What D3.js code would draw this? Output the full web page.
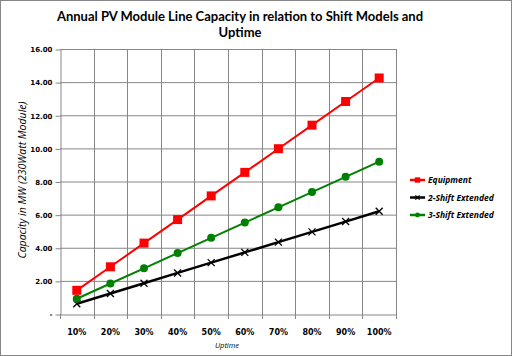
<!DOCTYPE html>
<html><head><meta charset="utf-8">
<script src="https://cdn.jsdelivr.net/npm/d3@7"></script>
<style>body{margin:0;background:#fff}svg{display:block}</style>
</head><body>
<svg id="c" width="512" height="356"></svg>
<script>
const categories = ["10%","20%","30%","40%","50%","60%","70%","80%","90%","100%"];
const equipment = [1.43,2.85,4.28,5.70,7.13,8.55,9.98,11.40,12.83,14.25];
const shift2 = [0.62,1.24,1.86,2.48,3.10,3.72,4.34,4.96,5.58,6.20];
const shift3 = [0.92,1.84,2.76,3.68,4.60,5.52,6.44,7.36,8.28,9.20];
const yTicks = [0,2,4,6,8,10,12,14,16];
const seriesNames = ["Equipment","2-Shift Extended","3-Shift Extended"];
const titleLines = ["Annual PV Module Line Capacity in relation to Shift Models and","Uptime"];

const svg = d3.select("#c");
svg.append("rect").attr("x",0.5).attr("y",0.5).attr("width",511).attr("height",355)
  .attr("fill","#fff").attr("stroke","#868686");

const L=60,R=396,T=49,B=314;
const x = d3.scaleBand().domain(categories).range([L,R]).padding(0);
const y = d3.scaleLinear().domain([0,16]).range([B,T]);
const gridC="#868686";

svg.append("g").selectAll("line").data(yTicks.slice(1)).join("line")
  .attr("x1",L).attr("x2",R).attr("y1",d=>y(d)+0.5).attr("y2",d=>y(d)+0.5)
  .attr("stroke",gridC).attr("stroke-width",1);
const bounds = categories.map(c=>x(c)).concat([R]);
svg.append("g").selectAll("line").data(bounds.slice(1)).join("line")
  .attr("x1",d=>Math.round(d)+0.5).attr("x2",d=>Math.round(d)+0.5).attr("y1",T).attr("y2",B)
  .attr("stroke",gridC);

const yAxis = d3.axisLeft(y).tickValues(yTicks).tickSize(5).tickSizeOuter(0)
  .tickFormat(d=>d===0?"-":d3.format(".2f")(d));
const gy = svg.append("g").attr("transform",`translate(${L+0.5},0.5)`).call(yAxis);
const xAxis = d3.axisBottom(x).tickSize(0).tickSizeOuter(0);
const gx = svg.append("g").attr("transform",`translate(0,${B+0.5})`).call(xAxis);
[gy,gx].forEach(g=>{
  g.select(".domain").attr("stroke",gridC);
  g.selectAll(".tick line").attr("stroke",gridC);
  g.selectAll("text").attr("font-family","DejaVu Sans").attr("font-weight","bold")
   .attr("font-size","7px").attr("fill","#000");
});
gx.selectAll("text").attr("dy","0").attr("y",20).attr("font-size","8px");
svg.append("g").selectAll("line").data(bounds).join("line")
  .attr("x1",d=>Math.round(d)+0.5).attr("x2",d=>Math.round(d)+0.5).attr("y1",B).attr("y2",B+5)
  .attr("stroke",gridC);

const cx = d=>x(d)+x.bandwidth()/2;
const defs = [
  {name:seriesNames[0], data:equipment, color:"#ff0000", marker:"square"},
  {name:seriesNames[1], data:shift2, color:"#000000", marker:"cross"},
  {name:seriesNames[2], data:shift3, color:"#008000", marker:"circle"}
];
const line = d3.line().x((d,i)=>cx(categories[i])).y(d=>y(d));
function drawMarker(g, type, color, px, py, scale=1){
  if(type==="square") g.append("rect").attr("x",px-4.5*scale).attr("y",py-4.5*scale)
      .attr("width",9*scale).attr("height",9*scale).attr("fill",color);
  else if(type==="circle") g.append("circle").attr("cx",px).attr("cy",py).attr("r",4*scale).attr("fill",color);
  else { const s=3.5*scale;
    g.append("path").attr("d",`M${px-s},${py-s}L${px+s},${py+s}M${px-s},${py+s}L${px+s},${py-s}`)
     .attr("stroke",color).attr("stroke-width",1.3).attr("fill","none"); }
}
[defs[1],defs[2],defs[0]].forEach(s=>{
  const g = svg.append("g");
  g.append("path").attr("d",line(s.data)).attr("fill","none").attr("stroke",s.color)
    .attr("stroke-width",s.marker==="cross"?2.5:2);
  s.data.forEach((v,i)=>drawMarker(g,s.marker,s.color,cx(categories[i]),y(v)));
});

const lg = svg.append("g");
defs.forEach((s,i)=>{
  const ly = 180 + i*17.5;
  lg.append("line").attr("x1",410).attr("x2",425).attr("y1",ly).attr("y2",ly)
    .attr("stroke",s.color).attr("stroke-width",2.5);
  drawMarker(lg,s.marker,s.color,417.5,ly,0.6);
  lg.append("text").attr("x",428).attr("y",ly+3.3).text(s.name)
    .attr("font-family","Open Sans").attr("font-style","italic").attr("font-weight","bold")
    .attr("font-size","8.5px").attr("fill","#000");
});

svg.append("g").selectAll("text").data(titleLines).join("text")
  .attr("x",240).attr("y",(d,i)=>21+i*16).attr("text-anchor","middle")
  .attr("font-family","Lato").attr("font-weight","bold").attr("font-size","13px")
  .attr("fill","#000").text(d=>d);

svg.append("text").attr("x",227).attr("y",348).attr("text-anchor","middle")
  .attr("font-family","Open Sans").attr("font-style","italic").attr("font-size","7.5px").text("Uptime");
svg.append("text").attr("transform","translate(26,180) rotate(-90)").attr("text-anchor","middle")
  .attr("font-family","Open Sans").attr("font-style","italic").attr("font-size","10.5px")
  .text("Capacity in MW (230Watt Module)");
</script>
</body></html>
